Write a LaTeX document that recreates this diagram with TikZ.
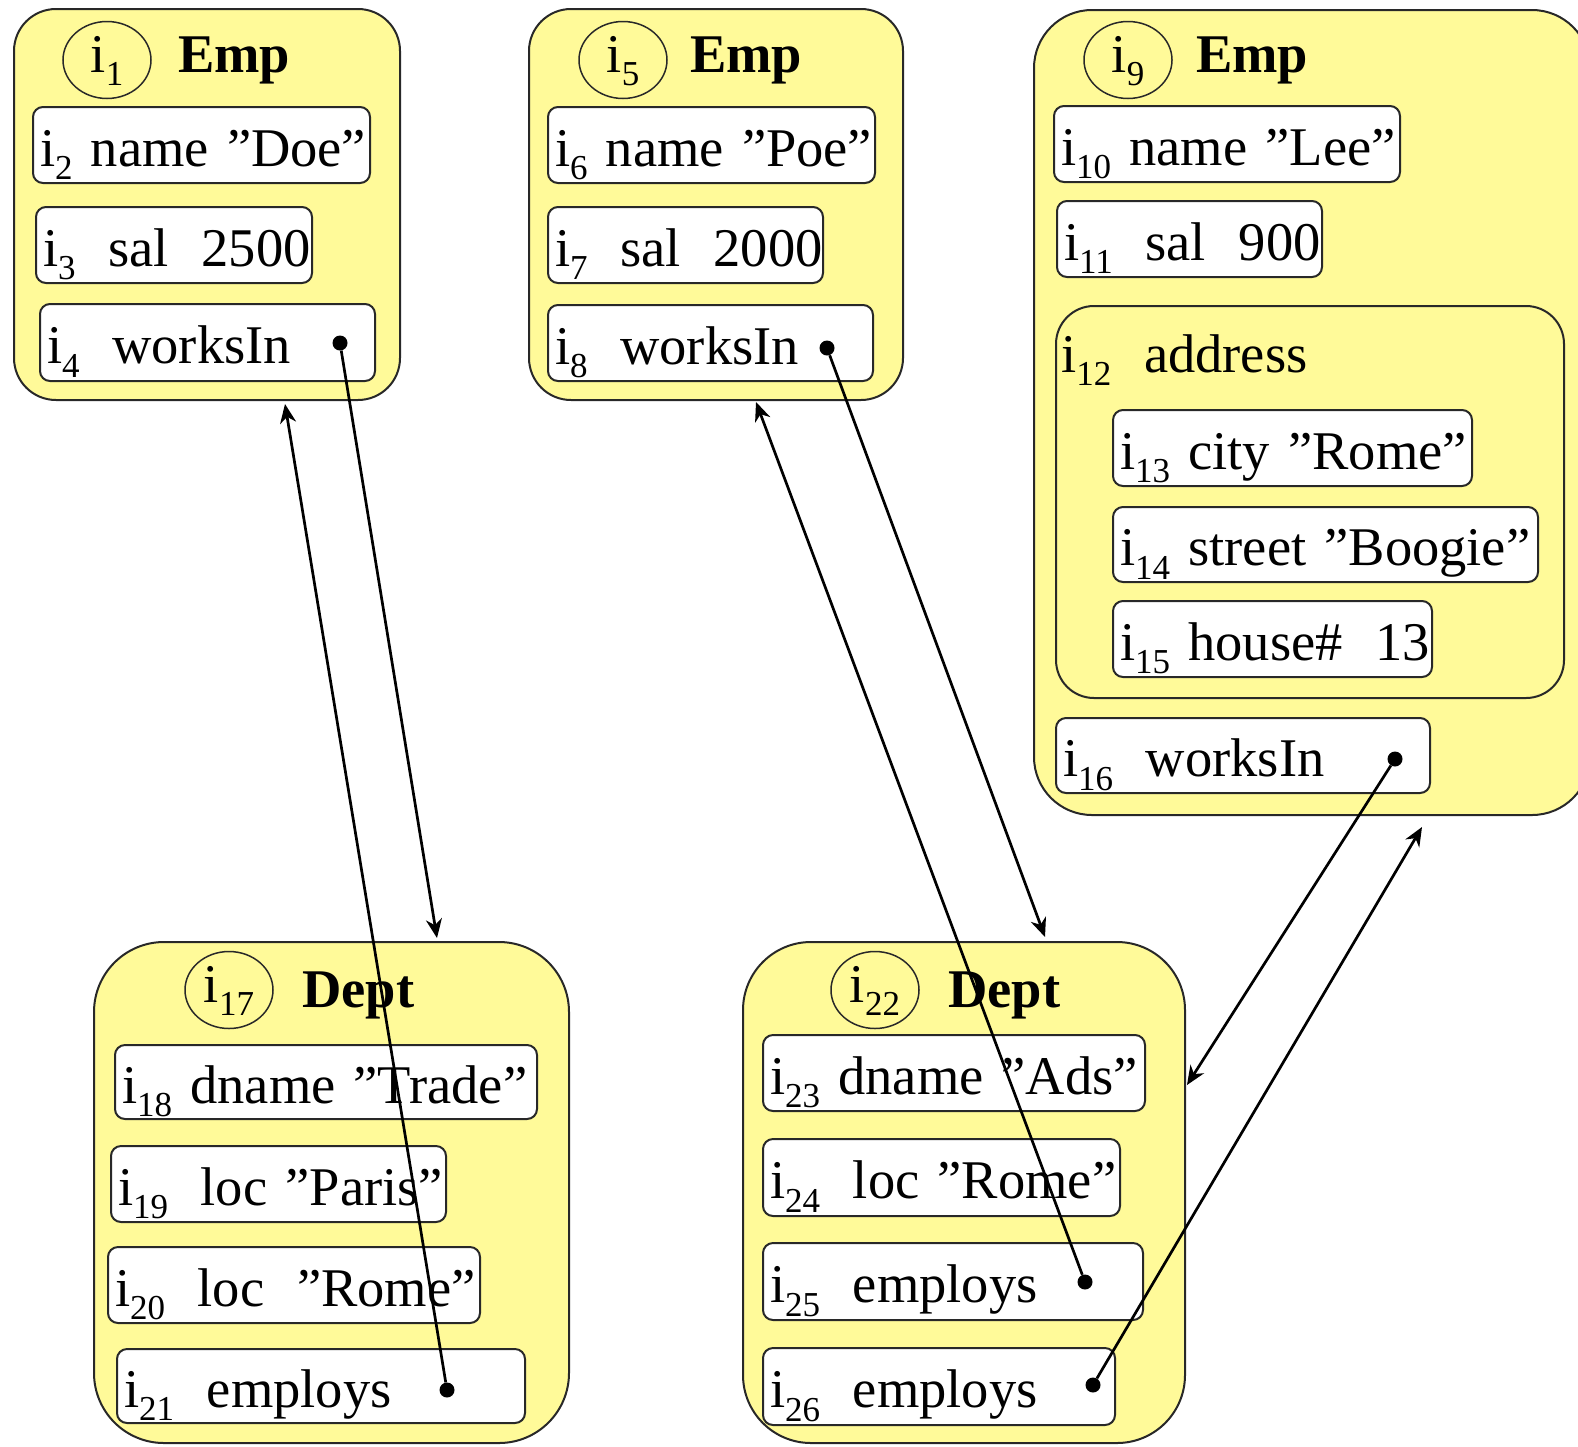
\documentclass[tikz,border=0pt]{standalone}
\usepackage{fontspec}
\setmainfont{Liberation Serif}
\usetikzlibrary{arrows.meta,shapes.geometric}
\definecolor{objfill}{RGB}{255,250,153}
\definecolor{edge}{RGB}{40,40,40}
% object identifier with a lowered index
\newcommand\objsub[1]{\raisebox{-0.25em}{\fontsize{35}{35}\selectfont #1}}
\newcommand\oid[1]{i\objsub{#1}}
% wide gap between the parts of a field
\newcommand\wgap{\hspace{0.6em}}
% rounded box given by its corners: [style]{name}{x1}{y1}{x2}{y2}{text}
\newcommand\rbox[7][]{%
  \pgfmathsetmacro\rbW{#5-#3}%
  \pgfmathsetmacro\rbH{#6-#4}%
  \pgfmathsetmacro\rbT{#5-#3-14}%
  \node[#1, minimum width=\rbW pt, minimum height=\rbH pt, text width=\rbT pt]
    (#2) at ({(#3+#5)/2},{(#4+#6)/2}) {\mbox{#7}};}
\begin{document}
\begin{tikzpicture}[x=1pt, y=-1pt,
  big/.style={font=\fontsize{54.5}{62}\selectfont},
  outer/.style={draw=edge, line width=2pt, fill=objfill, inner sep=0pt},
  field/.style={big, draw=edge, line width=2pt, fill=white, rounded corners=10pt,
    inner xsep=7pt, inner ysep=0pt, text height=52pt, text depth=10pt, align=left},
  oidmark/.style={ellipse, draw=edge, line width=1.5pt, big, inner sep=0pt,
    minimum width=88pt, minimum height=77pt, text height=32pt, text depth=8pt},
  title/.style={font=\fontsize{54.5}{62}\selectfont\bfseries, anchor=base west, inner sep=0pt},
  lbl/.style={big, anchor=base west, inner sep=0pt},
  dot/.style={circle, fill=black, inner sep=0pt, minimum size=15pt},
  conn/.style={line width=2.7pt, draw=black, -{Stealth[length=19pt,width=16pt,inset=6pt]}}
]
\useasboundingbox (0,0) rectangle (1578,1446);

% ---- Emp i1 ----
\rbox[outer, rounded corners=42pt]{emp1}{14}{9}{400}{400}{}
\node[oidmark] (o1) at (107,60) {\oid{1}};
\node[title] (t1) at (178,72) {Emp};
\rbox[field]{f2}{33}{107}{370}{183}{\oid{2} name ”Doe”}
\rbox[field]{f3}{36}{207}{312}{283}{\oid{3}\wgap sal\wgap 2500}
\rbox[field]{f4}{40}{304}{375}{381}{\oid{4}\wgap worksIn}

% ---- Emp i5 ----
\rbox[outer, rounded corners=42pt]{emp5}{529}{9}{903}{400}{}
\node[oidmark] (o5) at (623,60) {\oid{5}};
\node[title] (t5) at (690,72) {Emp};
\rbox[field]{f6}{548}{107}{875}{183}{\oid{6} name ”Poe”}
\rbox[field]{f7}{548}{207}{823}{283}{\oid{7}\wgap sal\wgap 2000}
\rbox[field]{f8}{548}{305}{873}{381}{\oid{8}\wgap worksIn}

% ---- Emp i9 ----
\rbox[outer, rounded corners=58pt]{emp9}{1034}{10}{1590}{815}{}
\node[oidmark] (o9) at (1128,60) {\oid{9}};
\node[title] (t9) at (1196,72) {Emp};
\rbox[field]{f10}{1054}{106}{1400}{182}{\oid{10} name ”Lee”}
\rbox[field]{f11}{1057}{201}{1322}{277}{\oid{11}\wgap sal\wgap 900}
\rbox[outer, rounded corners=38pt]{addr}{1056}{306}{1564}{698}{}
\node[lbl] (a12) at (1061,372) {\oid{12}\wgap address};
\rbox[field]{f13}{1113}{410}{1472}{486}{\oid{13} city ”Rome”}
\rbox[field]{f14}{1113}{507}{1538}{582}{\oid{14} street ”Boogie”}
\rbox[field]{f15}{1113}{601}{1432}{677}{\oid{15} house\#\wgap 13}
\rbox[field]{f16}{1056}{718}{1430}{793}{\oid{16}\wgap worksIn}

% ---- Dept i17 ----
\rbox[outer, rounded corners=70pt]{dept17}{94}{942}{569}{1443}{}
\node[oidmark] (o17) at (229,990) {\oid{17}};
\node[title] (t17) at (302,1007) {Dept};
\rbox[field]{f18}{115}{1045}{537}{1119}{\oid{18} dname ”Trade”}
\rbox[field]{f19}{111}{1146}{446}{1222}{\oid{19}\wgap loc ”Paris”}
\rbox[field]{f20}{108}{1247}{480}{1323}{\oid{20}\wgap loc\wgap ”Rome”}
\rbox[field]{f21}{117}{1349}{525}{1423}{\oid{21}\wgap employs}

% ---- Dept i22 ----
\rbox[outer, rounded corners=68pt]{dept22}{743}{942}{1185}{1443}{}
\node[oidmark] (o22) at (875,990) {\oid{22}};
\node[title] (t22) at (948,1007) {Dept};
\rbox[field]{f23}{763}{1035}{1145}{1111}{\oid{23} dname ”Ads”}
\rbox[field]{f24}{763}{1139}{1120}{1216}{\oid{24}\wgap loc ”Rome”}
\rbox[field]{f25}{763}{1243}{1143}{1320}{\oid{25}\wgap employs}
\rbox[field]{f26}{763}{1348}{1115}{1425}{\oid{26}\wgap employs}

% ---- reference anchors ----
\node[dot] (p4)  at (340,343) {};
\node[dot] (p8)  at (827,348) {};
\node[dot] (p16) at (1395,759) {};
\node[dot] (p21) at (447,1390) {};
\node[dot] (p25) at (1085,1282) {};
\node[dot] (p26) at (1093,1385) {};

\coordinate (h4)  at (437,938);
\coordinate (h21) at (285,404);
\coordinate (h8)  at (1045,937);
\coordinate (h25) at (756,402);
\coordinate (h16) at (1187,1085);
\coordinate (h26) at (1422,827);

\draw[conn] (p4)  -- (h4);
\draw[conn] (p21) -- (h21);
\draw[conn] (p8)  -- (h8);
\draw[conn] (p25) -- (h25);
\draw[conn] (p16) -- (h16);
\draw[conn] (p26) -- (h26);
\end{tikzpicture}
\end{document}
